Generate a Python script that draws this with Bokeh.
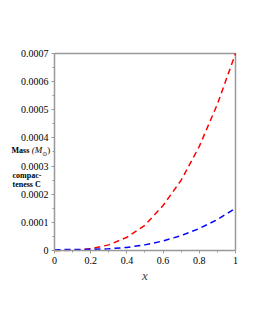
from bokeh.plotting import figure
from bokeh.models import Label, FixedTicker, Range1d
from bokeh.embed import file_html
from bokeh.resources import INLINE

x_vals = [0.0, 0.1, 0.2, 0.3, 0.4, 0.5, 0.6, 0.7, 0.8, 0.9, 1.0]
mass = [0.0, 0.0000007, 0.000006, 0.00002, 0.000047, 0.00009, 0.00016, 0.00025, 0.00037, 0.00052, 0.0007]
compactness = [0.000003, 0.0000032, 0.0000042, 0.000006, 0.000011, 0.00002, 0.000034, 0.000053, 0.000078, 0.00011, 0.00015]
x_ticks = [0, 0.2, 0.4, 0.6, 0.8, 1]
y_ticks = [0, 0.0001, 0.0002, 0.0003, 0.0004, 0.0005, 0.0006, 0.0007]
y_tick_labels = {0: "0", 0.0001: "0.0001", 0.0002: "0.0002", 0.0003: "0.0003",
                 0.0004: "0.0004", 0.0005: "0.0005", 0.0006: "0.0006", 0.0007: "0.0007"}

x0, x1 = x_ticks[0], x_ticks[-1]
y0, y1 = y_ticks[0], y_ticks[-1]

p = figure(frame_width=237, frame_height=240, output_backend="svg", toolbar_location=None,
           x_range=Range1d(-0.2707, 1.0387), y_range=Range1d(-0.0001244, 0.0007284),
           min_border_left=5, min_border_right=5, min_border_top=45, min_border_bottom=10)

gray = "#999999"
p.outline_line_color = None
p.grid.visible = False
p.background_fill_color = "white"
p.border_fill_color = "white"

# box: top and right edges
p.line([x0, x1, x1], [y1, y1, y0], line_color=gray, line_width=1.5)

p.line(x_vals, mass, line_color="red", line_width=1.5, line_dash="6 4")
p.line(x_vals, compactness, line_color="blue", line_width=1.5, line_dash="6 4")

for ax in (p.xaxis[0], p.yaxis[0]):
    ax.fixed_location = 0
    ax.axis_line_color = gray
    ax.axis_line_width = 1.5
    ax.major_tick_line_color = gray
    ax.minor_tick_line_color = gray
    ax.major_tick_out = 3
    ax.major_tick_in = 0
    ax.minor_tick_out = 2
    ax.minor_tick_in = 0
    ax.major_label_text_font = "Liberation Serif"
    ax.major_label_text_font_size = "10px"
    ax.major_label_text_color = "black"
    ax.major_label_standoff = 3

p.xaxis[0].bounds = (x0, x1)
p.yaxis[0].bounds = (y0, y1)
p.xaxis[0].major_label_standoff = 4
p.xaxis[0].ticker = FixedTicker(ticks=x_ticks, minor_ticks=[0.1, 0.3, 0.5, 0.7, 0.9])
p.yaxis[0].ticker = FixedTicker(ticks=y_ticks,
                                minor_ticks=[0.00005, 0.00015, 0.00025, 0.00035, 0.00045, 0.00055, 0.00065])
p.yaxis[0].major_label_overrides = y_tick_labels
p.xaxis[0].major_label_overrides = {0: "0", 1: "1"}
p.xaxis[0].axis_label = "x"
p.xaxis[0].axis_label_text_font = "Liberation Serif"
p.xaxis[0].axis_label_text_font_style = "italic"
p.xaxis[0].axis_label_text_font_size = "13px"
p.xaxis[0].axis_label_standoff = 0

lab_font = "Liberation Serif"
def add_text(x, y, text, size="8px", style="bold", font=lab_font):
    p.add_layout(Label(x=x, y=y, text=text,
                       text_font=font, text_font_style=style, text_font_size=size,
                       text_baseline="middle", text_color="black"))

add_text(-0.2376, 0.000357, "Mass")
add_text(-0.126, 0.000357, "(M", style="italic", size="9px")
add_text(-0.068, 0.000345, "⊙", style="normal", size="6px", font="DejaVu Sans")
add_text(-0.040, 0.000357, ")", style="normal", size="9px")
add_text(-0.232, 0.000267, "compac-")
add_text(-0.232, 0.000234, "teness  C")

open("out.html", "w").write(file_html(p, INLINE))
